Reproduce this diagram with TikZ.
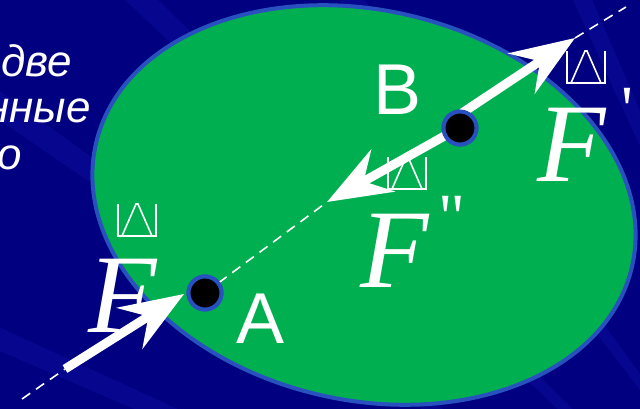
\documentclass[tikz,border=0pt]{standalone}
\usepackage{fontspec}
\setmainfont{Liberation Serif}
\newfontfamily\arialf{Liberation Sans}
\newfontfamily\quotef{Liberation Serif}[Ligatures=TeXOff]
\usetikzlibrary{arrows.meta}
\definecolor{bgnavy}{RGB}{0,0,128}
\definecolor{raycol}{RGB}{25,25,185}
\definecolor{ellgreen}{RGB}{0,176,80}
\definecolor{ringblue}{RGB}{40,80,190}
\tikzset{
  bigarrow/.style={white, line width=9pt, -{Stealth[length=64pt,width=48pt,inset=22pt]}},
  dashline/.style={white, line width=1.6pt, dash pattern=on 10pt off 7pt},
  dot/.style={circle, fill=black, draw=ringblue, line width=4pt, minimum size=33pt, inner sep=0pt},
  lettertext/.style={white, inner sep=0pt, anchor=base west, font=\arialf\fontsize{72}{72}\selectfont},
  ftext/.style={white, inner sep=0pt, anchor=base west, font=\itshape\fontsize{112}{112}\selectfont},
  primetext/.style={white, inner sep=0pt, anchor=base west, font=\quotef\fontsize{66}{66}\selectfont},
  sidetext/.style={white, inner sep=0pt, anchor=base east, font=\arialf\itshape\fontsize{44}{44}\selectfont},
  glyphbox/.pic={
    \draw[white, line width=1.6pt] (-19,-16) -- (-19,16) -- (19,16) -- (19,-16);
    \draw[white, line width=1.6pt] (-15,16) -- (-1,-16) -- (1,-16) -- (15,16);
  }
}
\begin{document}
\begin{tikzpicture}[x=1pt,y=-1pt]
\useasboundingbox (0,0) rectangle (640,409);
\clip (0,0) rectangle (640,409);
\fill[bgnavy] (0,0) rectangle (640,409);
% faint rays of the background
\coordinate (raysrc) at (915,747);
\foreach \a in {196,204,215,224,233,246,256}{
  \fill[raycol, opacity=0.25] (raysrc) -- ++(\a-0.6:1400) -- ++(\a+90:30) -- cycle;
}
% ellipse (slightly tilted)
\draw[ringblue, line width=4pt, fill=ellgreen, rotate around={-12.9:(364,205)}]
  (364,205) ellipse [x radius=275, y radius=195];
% coordinates
\coordinate (dl0) at (22,399);
\coordinate (fa0) at (65,369);
\coordinate (fatip) at (184,294);
\coordinate (fpp0) at (448,134);
\coordinate (fpptip) at (327,202);
\coordinate (fp0) at (462,113);
\coordinate (fptip) at (575,38);
\coordinate (dl1) at (626,7);
\node[dot] (A) at (205,293) {};
\node[dot] (B) at (460,128) {};
% dashed line of action
\draw[dashline] (dl0) -- (fa0);
\draw[dashline] (A.center) -- (fpptip);
\draw[dashline] (fptip) -- (dl1);
% force arrows
\draw[bigarrow] (fa0) -- (fatip);
\draw[bigarrow] (fp0) -- (fptip);
\draw[bigarrow] (fpp0) -- (fpptip);
% redraw points on top
\node[dot] at (A.center) {};
\node[dot] at (B.center) {};
% labels
\node[lettertext] (labA) at (236,343) {A};
\node[lettertext] (labB) at (373,115) {B};
\node[ftext] (FA) at (88,332) {F};
\node[ftext] (Fpp) at (360,287) {F};
\node[ftext] (Fp) at (537,182) {F};
\node[primetext] (pp) at (438,239) {\symbol{"22}};
\node[primetext] (p) at (621,132) {\symbol{"27}};
\pic at (137,220) {glyphbox};
\pic at (407,173) {glyphbox};
\pic at (586,67) {glyphbox};
% cut-off text at left
\node[sidetext] (t1) at (72,77) {две};
\node[sidetext] (t2) at (91,123) {нные};
\node[sidetext] (t3) at (22,170) {о};
\end{tikzpicture}
\end{document}
